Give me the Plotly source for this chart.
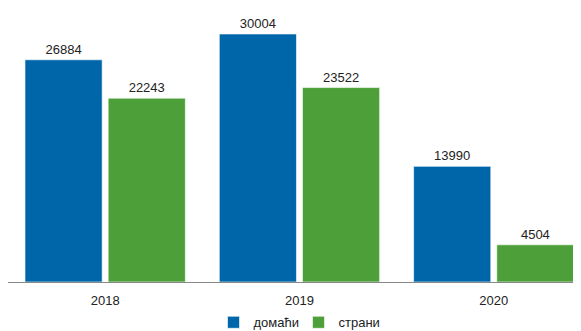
import plotly.graph_objects as go

godine = ["2018", "2019", "2020"]
domaci = [26884, 30004, 13990]
strani = [22243, 23522, 4504]

plava = "rgb(0,102,170)"
zelena = "rgb(77,160,57)"

fig = go.Figure()

fig.add_trace(go.Bar(
    x=godine, y=domaci, name="домаћи",
    marker=dict(color=plava, line=dict(color="rgba(255,255,255,0.6)", width=1)),
    text=[str(v) for v in domaci], textposition="outside",
    textfont=dict(size=13, color="#222"), cliponaxis=False
))
fig.add_trace(go.Bar(
    x=godine, y=strani, name="страни",
    marker=dict(color=zelena, line=dict(color="rgba(255,255,255,0.6)", width=1)),
    text=[str(v) for v in strani], textposition="outside",
    textfont=dict(size=13, color="#222"), cliponaxis=False
))

fig.update_layout(
    width=581, height=331,
    margin=dict(l=0, r=0, t=0, b=57),
    paper_bgcolor="white", plot_bgcolor="white",
    font=dict(family="Liberation Sans, Arial, sans-serif", size=13, color="#222"),
    barmode="group", bargap=0.144, bargroupgap=0.072,
    showlegend=True,
    legend=dict(orientation="h", x=0.5, xanchor="center", y=0.005, yanchor="bottom",
                yref="container", font=dict(size=13), itemwidth=30,
                entrywidth=40, entrywidthmode="pixels",
                traceorder="normal"),
    xaxis=dict(type="category", range=[-0.5, 2.49], showline=True, linecolor="#888",
               linewidth=1, ticks="outside", ticklen=6, tickcolor="rgba(0,0,0,0)",
               showgrid=False, tickfont=dict(size=13)),
    yaxis=dict(range=[0, 33148], visible=False, showgrid=False),
)

fig.write_html("out.html")
